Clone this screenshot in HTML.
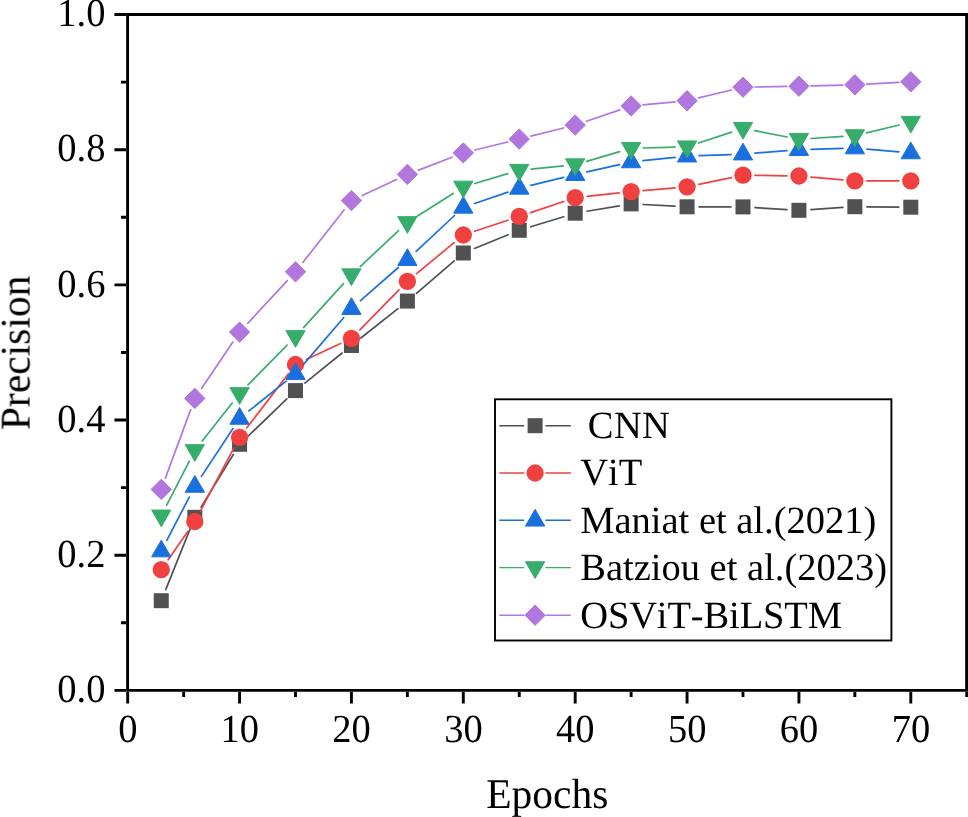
<!DOCTYPE html>
<html lang="en"><head><meta charset="utf-8"><title>Precision vs Epochs</title>
<style>html,body{margin:0;padding:0;background:#fff}body{width:968px;height:817px;overflow:hidden}svg{display:block}text{font-kerning:none;font-variant-ligatures:none;text-rendering:geometricPrecision}</style>
</head><body>
<svg width="968" height="817" viewBox="0 0 968 817">
<rect width="968" height="817" fill="#fff"/>
<g><path d="M165.74 589.57L190.34 528.43M201.09 507.07L233.30 454.53M248.23 435.99L286.85 398.91M304.85 383.07L342.10 353.03M360.84 338.04L397.98 308.56M416.48 293.28L454.22 260.82M474.43 248.49L508.13 234.81M530.73 226.79L563.71 216.71M587.02 211.23L619.28 205.87M643.11 204.52L675.07 206.18M699.06 206.82L730.99 206.88M754.97 207.63L786.95 209.57M810.90 209.53L842.89 207.47M866.86 206.81L898.80 207.09" stroke="#515151" stroke-width="1.7" stroke-linecap="round" fill="none"/>
<rect x="153.76" y="593.20" width="15.0" height="15.0" fill="#515151"/>
<rect x="187.32" y="509.80" width="15.0" height="15.0" fill="#515151"/>
<rect x="232.07" y="436.80" width="15.0" height="15.0" fill="#515151"/>
<rect x="288.01" y="383.10" width="15.0" height="15.0" fill="#515151"/>
<rect x="343.94" y="338.00" width="15.0" height="15.0" fill="#515151"/>
<rect x="399.88" y="293.60" width="15.0" height="15.0" fill="#515151"/>
<rect x="455.81" y="245.50" width="15.0" height="15.0" fill="#515151"/>
<rect x="511.75" y="222.80" width="15.0" height="15.0" fill="#515151"/>
<rect x="567.69" y="205.70" width="15.0" height="15.0" fill="#515151"/>
<rect x="623.62" y="196.40" width="15.0" height="15.0" fill="#515151"/>
<rect x="679.56" y="199.30" width="15.0" height="15.0" fill="#515151"/>
<rect x="735.49" y="199.40" width="15.0" height="15.0" fill="#515151"/>
<rect x="791.43" y="202.80" width="15.0" height="15.0" fill="#515151"/>
<rect x="847.36" y="199.20" width="15.0" height="15.0" fill="#515151"/>
<rect x="903.30" y="199.70" width="15.0" height="15.0" fill="#515151"/></g>
<g><path d="M168.12 559.85L187.97 531.35M200.45 510.90L233.94 447.90M246.88 427.78L288.20 374.02M306.38 359.43L340.57 343.47M359.84 329.83L398.98 289.87M416.62 273.65L454.07 242.65M474.70 231.21L507.86 220.19M530.63 212.60L563.80 201.50M587.11 196.40L619.19 192.90M643.08 190.57L675.10 187.83M698.81 184.36L731.24 177.64M754.99 175.37L786.93 175.83M810.88 177.05L842.91 179.85M866.86 180.90L898.80 180.90" stroke="#F14040" stroke-width="1.7" stroke-linecap="round" fill="none"/>
<circle cx="161.26" cy="569.70" r="8.65" fill="#F14040"/>
<circle cx="194.82" cy="521.50" r="8.65" fill="#F14040"/>
<circle cx="239.57" cy="437.30" r="8.65" fill="#F14040"/>
<circle cx="295.51" cy="364.50" r="8.65" fill="#F14040"/>
<circle cx="351.44" cy="338.40" r="8.65" fill="#F14040"/>
<circle cx="407.38" cy="281.30" r="8.65" fill="#F14040"/>
<circle cx="463.31" cy="235.00" r="8.65" fill="#F14040"/>
<circle cx="519.25" cy="216.40" r="8.65" fill="#F14040"/>
<circle cx="575.19" cy="197.70" r="8.65" fill="#F14040"/>
<circle cx="631.12" cy="191.60" r="8.65" fill="#F14040"/>
<circle cx="687.06" cy="186.80" r="8.65" fill="#F14040"/>
<circle cx="742.99" cy="175.20" r="8.65" fill="#F14040"/>
<circle cx="798.93" cy="176.00" r="8.65" fill="#F14040"/>
<circle cx="854.86" cy="180.90" r="8.65" fill="#F14040"/>
<circle cx="910.80" cy="180.90" r="8.65" fill="#F14040"/></g>
<g><path d="M166.79 540.35L189.29 497.05M201.42 476.38L232.97 428.42M248.95 410.91L286.13 381.19M303.33 364.60L343.62 317.70M360.47 300.69L398.35 267.51M416.14 251.40L454.55 215.50M474.68 203.44L507.89 192.16M530.91 185.45L563.53 177.45M586.89 171.94L619.42 164.56M643.06 160.66L675.12 157.34M699.05 155.67L731.00 154.53M754.96 153.16L786.97 150.64M810.92 149.34L842.87 148.36M866.82 149.05L898.85 151.85" stroke="#1A6FDF" stroke-width="1.7" stroke-linecap="round" fill="none"/>
<polygon points="151.61,556.85 170.91,556.85 161.26,540.15" fill="#1A6FDF" stroke="#1A6FDF" stroke-width="1" stroke-linejoin="round"/>
<polygon points="185.17,492.25 204.47,492.25 194.82,475.55" fill="#1A6FDF" stroke="#1A6FDF" stroke-width="1" stroke-linejoin="round"/>
<polygon points="229.92,424.25 249.22,424.25 239.57,407.55" fill="#1A6FDF" stroke="#1A6FDF" stroke-width="1" stroke-linejoin="round"/>
<polygon points="285.86,379.55 305.16,379.55 295.51,362.85" fill="#1A6FDF" stroke="#1A6FDF" stroke-width="1" stroke-linejoin="round"/>
<polygon points="341.79,314.45 361.09,314.45 351.44,297.75" fill="#1A6FDF" stroke="#1A6FDF" stroke-width="1" stroke-linejoin="round"/>
<polygon points="397.73,265.45 417.03,265.45 407.38,248.75" fill="#1A6FDF" stroke="#1A6FDF" stroke-width="1" stroke-linejoin="round"/>
<polygon points="453.66,213.15 472.96,213.15 463.31,196.45" fill="#1A6FDF" stroke="#1A6FDF" stroke-width="1" stroke-linejoin="round"/>
<polygon points="509.60,194.15 528.90,194.15 519.25,177.45" fill="#1A6FDF" stroke="#1A6FDF" stroke-width="1" stroke-linejoin="round"/>
<polygon points="565.54,180.45 584.84,180.45 575.19,163.75" fill="#1A6FDF" stroke="#1A6FDF" stroke-width="1" stroke-linejoin="round"/>
<polygon points="621.47,167.75 640.77,167.75 631.12,151.05" fill="#1A6FDF" stroke="#1A6FDF" stroke-width="1" stroke-linejoin="round"/>
<polygon points="677.41,161.95 696.71,161.95 687.06,145.25" fill="#1A6FDF" stroke="#1A6FDF" stroke-width="1" stroke-linejoin="round"/>
<polygon points="733.34,159.95 752.64,159.95 742.99,143.25" fill="#1A6FDF" stroke="#1A6FDF" stroke-width="1" stroke-linejoin="round"/>
<polygon points="789.28,155.55 808.58,155.55 798.93,138.85" fill="#1A6FDF" stroke="#1A6FDF" stroke-width="1" stroke-linejoin="round"/>
<polygon points="845.21,153.85 864.51,153.85 854.86,137.15" fill="#1A6FDF" stroke="#1A6FDF" stroke-width="1" stroke-linejoin="round"/>
<polygon points="901.15,158.75 920.45,158.75 910.80,142.05" fill="#1A6FDF" stroke="#1A6FDF" stroke-width="1" stroke-linejoin="round"/></g>
<g><path d="M166.74 505.22L189.34 461.18M202.23 441.06L232.16 402.94M247.98 384.94L287.10 345.06M303.56 327.60L343.39 283.60M360.22 266.51L398.61 230.69M417.51 216.07L453.18 193.43M474.81 183.55L507.76 173.65M531.19 169.03L563.24 165.87M586.70 161.32L619.61 151.68M643.12 147.98L675.06 147.12M698.45 143.03L731.60 132.07M754.77 130.62L787.15 136.98M810.90 138.51L842.89 136.39M866.53 132.80L899.13 125.00" stroke="#37AD6B" stroke-width="1.7" stroke-linecap="round" fill="none"/>
<polygon points="151.61,510.05 170.91,510.05 161.26,526.75" fill="#37AD6B" stroke="#37AD6B" stroke-width="1" stroke-linejoin="round"/>
<polygon points="185.17,444.65 204.47,444.65 194.82,461.35" fill="#37AD6B" stroke="#37AD6B" stroke-width="1" stroke-linejoin="round"/>
<polygon points="229.92,387.65 249.22,387.65 239.57,404.35" fill="#37AD6B" stroke="#37AD6B" stroke-width="1" stroke-linejoin="round"/>
<polygon points="285.86,330.65 305.16,330.65 295.51,347.35" fill="#37AD6B" stroke="#37AD6B" stroke-width="1" stroke-linejoin="round"/>
<polygon points="341.79,268.85 361.09,268.85 351.44,285.55" fill="#37AD6B" stroke="#37AD6B" stroke-width="1" stroke-linejoin="round"/>
<polygon points="397.73,216.65 417.03,216.65 407.38,233.35" fill="#37AD6B" stroke="#37AD6B" stroke-width="1" stroke-linejoin="round"/>
<polygon points="453.66,181.15 472.96,181.15 463.31,197.85" fill="#37AD6B" stroke="#37AD6B" stroke-width="1" stroke-linejoin="round"/>
<polygon points="509.60,164.35 528.90,164.35 519.25,181.05" fill="#37AD6B" stroke="#37AD6B" stroke-width="1" stroke-linejoin="round"/>
<polygon points="565.54,158.85 584.84,158.85 575.19,175.55" fill="#37AD6B" stroke="#37AD6B" stroke-width="1" stroke-linejoin="round"/>
<polygon points="621.47,142.45 640.77,142.45 631.12,159.15" fill="#37AD6B" stroke="#37AD6B" stroke-width="1" stroke-linejoin="round"/>
<polygon points="677.41,140.95 696.71,140.95 687.06,157.65" fill="#37AD6B" stroke="#37AD6B" stroke-width="1" stroke-linejoin="round"/>
<polygon points="733.34,122.45 752.64,122.45 742.99,139.15" fill="#37AD6B" stroke="#37AD6B" stroke-width="1" stroke-linejoin="round"/>
<polygon points="789.28,133.45 808.58,133.45 798.93,150.15" fill="#37AD6B" stroke="#37AD6B" stroke-width="1" stroke-linejoin="round"/>
<polygon points="845.21,129.75 864.51,129.75 854.86,146.45" fill="#37AD6B" stroke="#37AD6B" stroke-width="1" stroke-linejoin="round"/>
<polygon points="901.15,116.35 920.45,116.35 910.80,133.05" fill="#37AD6B" stroke="#37AD6B" stroke-width="1" stroke-linejoin="round"/></g>
<g><path d="M165.41 478.14L190.67 409.66M201.54 388.45L232.86 342.05M247.73 323.30L287.35 280.60M302.92 262.36L344.03 210.04M362.31 195.51L396.51 179.49M418.58 170.09L452.11 157.21M474.96 150.03L507.60 141.97M530.89 136.19L563.54 128.01M586.54 121.22L619.77 109.88M643.07 104.87L675.11 101.83M698.72 97.88L731.33 90.02M754.99 86.99L786.93 86.41M810.92 85.90L842.87 85.10M866.85 84.16L898.82 82.44" stroke="#B177DE" stroke-width="1.7" stroke-linecap="round" fill="none"/>
<polygon points="151.06,489.40 161.26,479.20 171.46,489.40 161.26,499.60" fill="#B177DE" stroke="#B177DE" stroke-width="1" stroke-linejoin="round"/>
<polygon points="184.62,398.40 194.82,388.20 205.02,398.40 194.82,408.60" fill="#B177DE" stroke="#B177DE" stroke-width="1" stroke-linejoin="round"/>
<polygon points="229.37,332.10 239.57,321.90 249.77,332.10 239.57,342.30" fill="#B177DE" stroke="#B177DE" stroke-width="1" stroke-linejoin="round"/>
<polygon points="285.31,271.80 295.51,261.60 305.71,271.80 295.51,282.00" fill="#B177DE" stroke="#B177DE" stroke-width="1" stroke-linejoin="round"/>
<polygon points="341.24,200.60 351.44,190.40 361.64,200.60 351.44,210.80" fill="#B177DE" stroke="#B177DE" stroke-width="1" stroke-linejoin="round"/>
<polygon points="397.18,174.40 407.38,164.20 417.58,174.40 407.38,184.60" fill="#B177DE" stroke="#B177DE" stroke-width="1" stroke-linejoin="round"/>
<polygon points="453.11,152.90 463.31,142.70 473.51,152.90 463.31,163.10" fill="#B177DE" stroke="#B177DE" stroke-width="1" stroke-linejoin="round"/>
<polygon points="509.05,139.10 519.25,128.90 529.45,139.10 519.25,149.30" fill="#B177DE" stroke="#B177DE" stroke-width="1" stroke-linejoin="round"/>
<polygon points="564.99,125.10 575.19,114.90 585.39,125.10 575.19,135.30" fill="#B177DE" stroke="#B177DE" stroke-width="1" stroke-linejoin="round"/>
<polygon points="620.92,106.00 631.12,95.80 641.32,106.00 631.12,116.20" fill="#B177DE" stroke="#B177DE" stroke-width="1" stroke-linejoin="round"/>
<polygon points="676.86,100.70 687.06,90.50 697.26,100.70 687.06,110.90" fill="#B177DE" stroke="#B177DE" stroke-width="1" stroke-linejoin="round"/>
<polygon points="732.79,87.20 742.99,77.00 753.19,87.20 742.99,97.40" fill="#B177DE" stroke="#B177DE" stroke-width="1" stroke-linejoin="round"/>
<polygon points="788.73,86.20 798.93,76.00 809.13,86.20 798.93,96.40" fill="#B177DE" stroke="#B177DE" stroke-width="1" stroke-linejoin="round"/>
<polygon points="844.66,84.80 854.86,74.60 865.06,84.80 854.86,95.00" fill="#B177DE" stroke="#B177DE" stroke-width="1" stroke-linejoin="round"/>
<polygon points="900.60,81.80 910.80,71.60 921.00,81.80 910.80,92.00" fill="#B177DE" stroke="#B177DE" stroke-width="1" stroke-linejoin="round"/></g>
<g stroke="#000" stroke-width="2.9" fill="none" stroke-linecap="butt">
<path d="M127.6 13.05V691.85M966.6 13.05V691.85M126.14999999999999 14.5H968.0500000000001M126.14999999999999 690.4H968.0500000000001"/>
<path d="M127.70 691.85v11.7M183.64 691.85v5.2M239.57 691.85v11.7M295.51 691.85v5.2M351.44 691.85v11.7M407.38 691.85v5.2M463.31 691.85v11.7M519.25 691.85v5.2M575.19 691.85v11.7M631.12 691.85v5.2M687.06 691.85v11.7M742.99 691.85v5.2M798.93 691.85v11.7M854.86 691.85v5.2M910.80 691.85v11.7M966.74 691.85v5.2M126.14999999999999 690.40h-11.7M126.14999999999999 622.81h-5.2M126.14999999999999 555.22h-11.7M126.14999999999999 487.63h-5.2M126.14999999999999 420.04h-11.7M126.14999999999999 352.45h-5.2M126.14999999999999 284.86h-11.7M126.14999999999999 217.27h-5.2M126.14999999999999 149.68h-11.7M126.14999999999999 82.09h-5.2M126.14999999999999 14.50h-11.7"/>
</g>
<g font-family="'Liberation Serif', 'Times New Roman', serif" fill="#000" opacity="0.999">
<text transform="translate(127.80 742.10) scale(1.0 1.035)" font-size="38.5" text-anchor="middle" xml:space="preserve">0</text>
<text transform="translate(239.67 742.10) scale(1.0 1.035)" font-size="38.5" text-anchor="middle" xml:space="preserve">10</text>
<text transform="translate(351.54 742.10) scale(1.0 1.035)" font-size="38.5" text-anchor="middle" xml:space="preserve">20</text>
<text transform="translate(463.41 742.10) scale(1.0 1.035)" font-size="38.5" text-anchor="middle" xml:space="preserve">30</text>
<text transform="translate(575.29 742.10) scale(1.0 1.035)" font-size="38.5" text-anchor="middle" xml:space="preserve">40</text>
<text transform="translate(687.16 742.10) scale(1.0 1.035)" font-size="38.5" text-anchor="middle" xml:space="preserve">50</text>
<text transform="translate(799.03 742.10) scale(1.0 1.035)" font-size="38.5" text-anchor="middle" xml:space="preserve">60</text>
<text transform="translate(910.90 742.10) scale(1.0 1.035)" font-size="38.5" text-anchor="middle" xml:space="preserve">70</text>
<text transform="translate(105.40 702.10) scale(1.0 1.035)" font-size="38.5" text-anchor="end" xml:space="preserve">0.0</text>
<text transform="translate(105.40 566.92) scale(1.0 1.035)" font-size="38.5" text-anchor="end" xml:space="preserve">0.2</text>
<text transform="translate(105.40 431.74) scale(1.0 1.035)" font-size="38.5" text-anchor="end" xml:space="preserve">0.4</text>
<text transform="translate(105.40 296.56) scale(1.0 1.035)" font-size="38.5" text-anchor="end" xml:space="preserve">0.6</text>
<text transform="translate(105.40 161.38) scale(1.0 1.035)" font-size="38.5" text-anchor="end" xml:space="preserve">0.8</text>
<text transform="translate(105.40 26.20) scale(1.0 1.035)" font-size="38.5" text-anchor="end" xml:space="preserve">1.0</text>
<text transform="translate(547.30 807.60) scale(1.0 1.02)" font-size="41.5" text-anchor="middle" xml:space="preserve">Epochs</text>
<text transform="translate(29.30 352.80) rotate(-90) scale(1.0 1.02)" font-size="41.5" text-anchor="middle" xml:space="preserve">Precision</text>
</g>
<rect x="495.0" y="399.3" width="396.4" height="241.2" fill="#fff" stroke="#000" stroke-width="1.9"/>
<g font-family="'Liberation Serif', 'Times New Roman', serif" fill="#000" opacity="0.999">
<path d="M499.3 425.7H524.2M545.4 425.7H570.9" stroke="#515151" stroke-width="1.4" fill="none"/>
<rect x="527.60" y="418.20" width="15.0" height="15.0" fill="#515151"/>
<text transform="translate(577.80 438.10) scale(1.0 1.001)" font-size="38.5" text-anchor="start" xml:space="preserve" letter-spacing="0.4"> CNN</text>
<path d="M499.3 473.0H524.2M545.4 473.0H570.9" stroke="#F14040" stroke-width="1.4" fill="none"/>
<circle cx="535.10" cy="473.00" r="8.65" fill="#F14040"/>
<text transform="translate(580.20 485.40) scale(1.0 1.001)" font-size="38.5" text-anchor="start" xml:space="preserve">ViT</text>
<path d="M499.3 520.2H524.2M545.4 520.2H570.9" stroke="#1A6FDF" stroke-width="1.4" fill="none"/>
<polygon points="525.45,526.05 544.75,526.05 535.10,509.35" fill="#1A6FDF" stroke="#1A6FDF" stroke-width="1" stroke-linejoin="round"/>
<text transform="translate(580.20 532.60) scale(1.0 1.001)" font-size="38.5" text-anchor="start" xml:space="preserve">Maniat et al.(2021)</text>
<path d="M499.3 567.6H524.2M545.4 567.6H570.9" stroke="#37AD6B" stroke-width="1.4" fill="none"/>
<polygon points="525.45,561.75 544.75,561.75 535.10,578.45" fill="#37AD6B" stroke="#37AD6B" stroke-width="1" stroke-linejoin="round"/>
<text transform="translate(580.20 580.00) scale(1.0 1.001)" font-size="38.5" text-anchor="start" xml:space="preserve">Batziou et al.(2023)</text>
<path d="M499.3 615.2H524.2M545.4 615.2H570.9" stroke="#B177DE" stroke-width="1.4" fill="none"/>
<polygon points="524.90,615.20 535.10,605.00 545.30,615.20 535.10,625.40" fill="#B177DE" stroke="#B177DE" stroke-width="1" stroke-linejoin="round"/>
<text transform="translate(580.20 627.60) scale(1.0 1.001)" font-size="38.5" text-anchor="start" xml:space="preserve" letter-spacing="-0.12">OSViT-BiLSTM</text>
</g>
</svg>
</body></html>
